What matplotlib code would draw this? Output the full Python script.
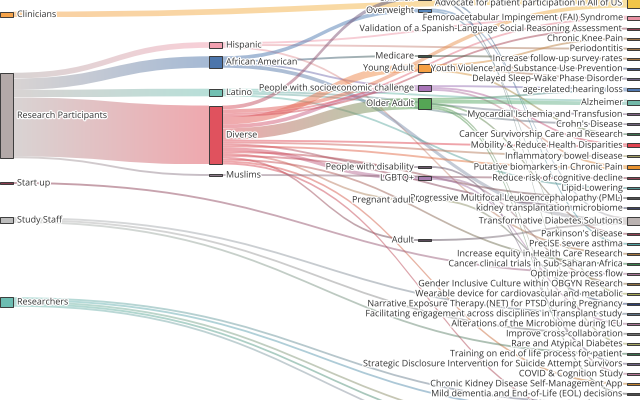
import numpy as np
import matplotlib.pyplot as plt
import matplotlib.patheffects as pe
from matplotlib.path import Path
from matplotlib.patches import PathPatch, Rectangle
from matplotlib.colors import to_rgb

# ---- nodes, one list per column -------------------------------------------
sources = ["Clinicians", "Research Participants", "Start up", "Study Staff", "Researchers"]
groups = ["Hispanic", "African American", "Latino", "Diverse", "Muslims"]
populations = ["Children", "Overweight", "Medicare", "Young Adult",
               "People with socioeconomic challenge", "Older Adult",
               "People with disability", "LGBTQ+", "Pregnant adult", "Adult"]
projects = [
    "Advocate for patient participation in All of US",
    "Femoroacetabular Impingement (FAI) Syndrome",
    "Validation of a Spanish-Language Social Reasoning Assessment",
    "Chronic Knee Pain",
    "Periodontitis",
    "Increase follow-up survey rates",
    "Youth Violence and Substance Use Prevention",
    "Delayed Sleep-Wake Phase Disorder",
    "age-related hearing loss",
    "Alzheimer",
    "Myocardial Ischemia and Transfusion",
    "Crohn's Disease",
    "Cancer Survivorship Care and Research",
    "Mobility & Reduce Health Disparities",
    "Inflammatory bowel disease",
    "Putative biomarkers in Chronic Pain",
    "Reduce risk of cognitive decline",
    "Lipid-Lowering",
    "Progressive Multifocal Leukoencephalopathy (PML)",
    "kidney transplantation microbiome",
    "Transformative Diabetes Solutions",
    "Parkinson's disease",
    "PreciSE severe asthma",
    "Increase equity in Health Care Research",
    "Cancer clinical trials in Sub-Saharan Africa",
    "Optimize process flow",
    "Gender Inclusive Culture within OBGYN Research",
    "Wearable device for cardiovascular and metabolic",
    "Narrative Exposure Therapy (NET) for PTSD during Pregnancy",
    "Facilitating engagement across disciplines in Transplant study",
    "Alterations of the Microbiome during ICU",
    "Improve cross-collaboration",
    "Rare and Atypical Diabetes",
    "Training on end of life process for patient",
    "Strategic Disclosure Intervention for Suicide Attempt Survivors",
    "COVID & Cognition Study",
    "Chronic Kidney Disease Self-Management App",
    "Mild dementia and End-of-Life (EOL) decisions",
    # below the visible area
    "Research Career Development",
    "Community Advisory Board",
    "Sickle Cell Disease Registry",
    "Health Literacy Toolkit",
    "Data Sharing Best Practices",
    "Return of Results",
]

# ---- flows -------------------------------------------------------------------
link_source = (
    ["Clinicians"]
    + ["Research Participants"] * 5
    + ["Hispanic"] * 3
    + ["African American"] * 4
    + ["Latino"] * 4
    + ["Diverse"] * 19
    + ["Muslims", "Start up"]
    + ["Study Staff"] * 3
    + ["Researchers"] * 5
    + ["Children"] * 2 + ["Overweight"] * 2 + ["Medicare"]
    + ["Young Adult"] * 4
    + ["People with socioeconomic challenge"] * 3
    + ["Older Adult"] * 5
    + ["People with disability"] + ["LGBTQ+"] * 2 + ["Pregnant adult", "Adult"]
)
link_target = [
    "Advocate for patient participation in All of US",
    "Hispanic", "African American", "Latino", "Diverse", "Muslims",
    "Femoroacetabular Impingement (FAI) Syndrome", "Periodontitis",
    "Increase equity in Health Care Research",
    "Overweight", "Medicare", "People with socioeconomic challenge",
    "Transformative Diabetes Solutions",
    "Alzheimer", "Lipid-Lowering", "Crohn's Disease", "Myocardial Ischemia and Transfusion",
    "Children", "Young Adult", "People with socioeconomic challenge", "Older Adult",
    "People with disability", "LGBTQ+", "Pregnant adult", "Adult",
    "Advocate for patient participation in All of US",
    "Validation of a Spanish-Language Social Reasoning Assessment",
    "Femoroacetabular Impingement (FAI) Syndrome", "Mobility & Reduce Health Disparities",
    "Inflammatory bowel disease", "Putative biomarkers in Chronic Pain",
    "Progressive Multifocal Leukoencephalopathy (PML)", "kidney transplantation microbiome",
    "Cancer clinical trials in Sub-Saharan Africa",
    "Chronic Kidney Disease Self-Management App", "Sickle Cell Disease Registry",
    "Reduce risk of cognitive decline", "Optimize process flow",
    "Facilitating engagement across disciplines in Transplant study",
    "Improve cross-collaboration", "Training on end of life process for patient",
    "Research Career Development", "Community Advisory Board", "Health Literacy Toolkit",
    "Data Sharing Best Practices", "Return of Results",
    "Rare and Atypical Diabetes", "PreciSE severe asthma",
    "Transformative Diabetes Solutions", "Wearable device for cardiovascular and metabolic",
    "Increase follow-up survey rates",
    "Chronic Knee Pain", "Youth Violence and Substance Use Prevention",
    "Delayed Sleep-Wake Phase Disorder", "Cancer Survivorship Care and Research",
    "age-related hearing loss", "Putative biomarkers in Chronic Pain",
    "Mobility & Reduce Health Disparities",
    "age-related hearing loss", "Alzheimer", "Parkinson's disease",
    "COVID & Cognition Study", "Mild dementia and End-of-Life (EOL) decisions",
    "Strategic Disclosure Intervention for Suicide Attempt Survivors",
    "Gender Inclusive Culture within OBGYN Research", "Alterations of the Microbiome during ICU",
    "Narrative Exposure Therapy (NET) for PTSD during Pregnancy",
    "Transformative Diabetes Solutions",
]
link_value = (
    [3]
    + [3, 6, 4, 31, 1]
    + [1, 1, 1]
    + [2, 1, 1, 2]
    + [1, 1, 1, 1]
    + [2, 4, 2, 6, 1, 2, 1, 1] + [2] + [1] * 10
    + [1, 1]
    + [1] * 3
    + [1] * 5
    + [1, 1] + [1, 1] + [1]
    + [1] * 4
    + [1] * 3
    + [1, 2, 1, 1, 1]
    + [1] + [1, 1] + [1, 1]
)

# ---- layout & style ----------------------------------------------------------
W, H = 640, 400
NODE_W = 13
UNIT = 1.9        # pixels per unit of flow
PAD = 8.1         # gap between stacked nodes in the last column
TOP = -1.85       # top of first node in the last column
FONT = 6.45
# vertical centres (px) of the nodes in the first three columns
node_y = {
    "Clinicians": 14.5, "Research Participants": 115.5, "Start up": 183,
    "Study Staff": 220, "Researchers": 302,
    "Hispanic": 45, "African American": 62, "Latino": 92.5, "Diverse": 135,
    "Muslims": 175,
    "Children": -2, "Overweight": 10.5, "Medicare": 56, "Young Adult": 68,
    "People with socioeconomic challenge": 88, "Older Adult": 103.5,
    "People with disability": 167, "LGBTQ+": 178, "Pregnant adult": 200,
    "Adult": 240,
}
node_color = {
    "Clinicians": "#f5a34a", "Research Participants": "#b3a9a8", "Start up": "#8b3a4e",
    "Study Staff": "#bdbdbd", "Researchers": "#6dbdb2",
    "Hispanic": "#f2a0b0", "African American": "#4c75ab", "Latino": "#72c0b2",
    "Diverse": "#e0525e", "Muslims": "#8d7a8a",
    "Children": "#3d5a8a", "Overweight": "#5585bb", "Medicare": "#40584a",
    "Young Adult": "#f5a043", "People with socioeconomic challenge": "#a874b8",
    "Older Adult": "#55a555", "People with disability": "#6e5a6e", "LGBTQ+": "#a77cb0",
    "Pregnant adult": "#a3a36a", "Adult": "#5a4a5a",
}
project_colors = [
    "#f2c548", "#e991a3", "#914253", "#9a7145", "#9a7145", "#a3733f", "#3f5381",
    "#6f6382", "#5078b0", "#72b9a9", "#7d6182", "#6f6279", "#3f7050", "#e0434f",
    "#a09a62", "#e8922f", "#914253", "#4f9090", "#505050", "#3f4462", "#bab2b1",
    "#914253", "#4fa0a0", "#a3733f", "#3f8050", "#a47393", "#8f7043", "#a3a352",
    "#314272", "#5f7182", "#a47393", "#6f6f6f", "#a3a362", "#3f7050", "#6f6382",
    "#b07393", "#c08030", "#505050", "#6f6382", "#5078b0", "#914253", "#a3733f",
    "#3f7050", "#a47393",
]
node_color.update(dict(zip(projects, project_colors)))

columns = [sources, groups, populations, projects]
col_left = [i * (W - NODE_W) / 3 for i in range(4)]

# node sizes from the flows
inflow, outflow = {}, {}
for s, t, v in zip(link_source, link_target, link_value):
    outflow[s] = outflow.get(s, 0) + v
    inflow[t] = inflow.get(t, 0) + v
size = {n: max(inflow.get(n, 0), outflow.get(n, 0)) * UNIT for c in columns for n in c}

node_x, node_top = {}, {}
for ci, col in enumerate(columns):
    y = TOP
    for n in col:
        node_x[n] = col_left[ci]
        if ci < 3:
            node_top[n] = node_y[n] - size[n] / 2
        else:
            node_top[n] = y
            y += size[n] + PAD
centre = {n: node_top[n] + size[n] / 2 for n in node_top}

# ---- figure -----------------------------------------------------------------
fig = plt.figure(figsize=(6.4, 4), dpi=100)
ax = fig.add_axes([0, 0, 1, 1])
ax.axis("off")

order = range(len(link_value))
out_sorted = sorted(order, key=lambda i: centre[link_target[i]])
in_sorted = sorted(order, key=lambda i: centre[link_source[i]])
out_off = dict(node_top)
in_off = dict(node_top)
y_start, y_end = {}, {}
for i in out_sorted:
    s = link_source[i]
    y_start[i] = out_off[s]
    out_off[s] += link_value[i] * UNIT
for i in in_sorted:
    t = link_target[i]
    y_end[i] = in_off[t]
    in_off[t] += link_value[i] * UNIT

grad = np.linspace(0, 1, 128)[:, None]
for i in order:
    s, t = link_source[i], link_target[i]
    h = link_value[i] * UNIT
    x0 = node_x[s] + NODE_W
    x1 = node_x[t]
    xm = (x0 + x1) / 2
    ya, yb = y_start[i], y_end[i]
    verts = [(x0, ya), (xm, ya), (xm, yb), (x1, yb),
             (x1, yb + h), (xm, yb + h), (xm, ya + h), (x0, ya + h), (x0, ya)]
    codes = [Path.MOVETO, Path.CURVE4, Path.CURVE4, Path.CURVE4, Path.LINETO,
             Path.CURVE4, Path.CURVE4, Path.CURVE4, Path.CLOSEPOLY]
    patch = PathPatch(Path(verts, codes), facecolor="none", edgecolor="none")
    ax.add_patch(patch)
    c0, c1 = np.array(to_rgb(node_color[s])), np.array(to_rgb(node_color[t]))
    rgba = np.ones((1, 128, 4))
    rgba[0, :, :3] = (1 - grad) * c0 + grad * c1
    rgba[0, :, 3] = 0.5
    im = ax.imshow(rgba, extent=(x0, x1, max(ya, yb) + h, min(ya, yb)),
                   aspect="auto", interpolation="bilinear", zorder=1)
    im.set_clip_path(patch)

# nodes and labels; middle-column labels stay on top of the long project names
halo = [pe.withStroke(linewidth=1.8, foreground="white")]
label_z = {0: 5, 1: 5, 2: 7, 3: 5}
for ci, col in enumerate(columns):
    for n in col:
        ax.add_patch(Rectangle((node_x[n], node_top[n]), NODE_W, size[n],
                               facecolor=node_color[n], edgecolor="#3a3a3a",
                               linewidth=0.7, zorder=6 if ci == 3 else 3))
        if ci < 2:
            ax.text(node_x[n] + NODE_W + 4, centre[n], n, ha="left", va="center",
                    fontsize=FONT, family="Open Sans", color="#333333",
                    path_effects=halo, zorder=label_z[ci])
        else:
            ax.text(node_x[n] - 4, centre[n], n, ha="right", va="center",
                    fontsize=FONT, family="Open Sans", color="#333333",
                    path_effects=halo, zorder=label_z[ci])

ax.set_xlim(0, W)
ax.set_ylim(H, 0)
fig.savefig("out.png", dpi=100)
